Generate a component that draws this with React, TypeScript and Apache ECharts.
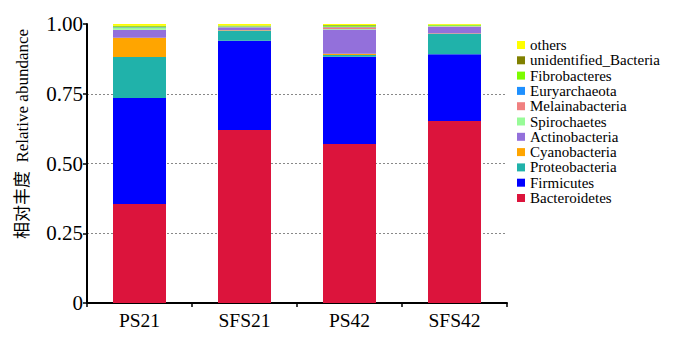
import React, { useEffect, useRef } from "react";
import * as echarts from "echarts";

const categories = ["PS21", "SFS21", "PS42", "SFS42"];
const taxa = [
  "Bacteroidetes",
  "Firmicutes",
  "Proteobacteria",
  "Cyanobacteria",
  "Actinobacteria",
  "Spirochaetes",
  "Melainabacteria",
  "Euryarchaeota",
  "Fibrobacteres",
  "unidentified_Bacteria",
  "others",
];
const colors = [
  "#DC143C",
  "#0000FF",
  "#20B2AA",
  "#FFA500",
  "#9370DB",
  "#98FB98",
  "#F08080",
  "#1E90FF",
  "#7CFC00",
  "#808000",
  "#FFFF00",
];
const bacteroidetes = [0.355, 0.62, 0.57, 0.652];
const firmicutes = [0.38, 0.32, 0.313, 0.24];
const proteobacteria = [0.147, 0.036, 0.006, 0.072];
const cyanobacteria = [0.069, 0.002, 0.004, 0.002];
const actinobacteria = [0.028, 0.01, 0.087, 0.024];
const spirochaetes = [0.007, 0.001, 0.002, 0.002];
const melainabacteria = [0.001, 0.001, 0.006, 0.001];
const euryarchaeota = [0.001, 0.001, 0.002, 0.001];
const fibrobacteres = [0.004, 0.003, 0.005, 0.002];
const unidentified = [0.002, 0.001, 0.001, 0.001];
const others = [0.006, 0.005, 0.004, 0.003];
const seriesValues = [
  bacteroidetes,
  firmicutes,
  proteobacteria,
  cyanobacteria,
  actinobacteria,
  spirochaetes,
  melainabacteria,
  euryarchaeota,
  fibrobacteres,
  unidentified,
  others,
];
const yTicks = [0, 0.25, 0.5, 0.75, 1.0];
const yTickLabels = ["0", "0.25", "0.50", "0.75", "1.00"];
const yAxisTitle = "相对丰度  Relative abundance";

const serif = "'Liberation Serif', 'Noto Sans CJK SC', serif";

export default function App() {
  const ref = useRef<HTMLDivElement>(null);
  useEffect(() => {
    if (!ref.current) return;
    const chart = echarts.init(ref.current, undefined, { renderer: "svg" });
    chart.setOption({
      animation: false,
      backgroundColor: "#fff",
      grid: { left: 87, right: 193, top: 24, bottom: 51, containLabel: false },
      legend: {
        orient: "vertical",
        left: 517,
        top: 37.5,
        padding: 0,
        itemWidth: 8,
        itemHeight: 8,
        itemGap: 0.3,
        icon: "rect",
        data: taxa.slice().reverse(),
        textStyle: {
          fontFamily: serif,
          fontSize: 15,
          color: "#000",
        },
        selectedMode: false,
      },
      graphic: [
        {
          type: "text",
          x: 22,
          y: 134,
          rotation: Math.PI / 2,
          style: {
            text: yAxisTitle,
            fontFamily: serif,
            fontSize: 17,
            fill: "#000",
            align: "center",
            verticalAlign: "middle",
          },
        },
      ],
      xAxis: {
        type: "category",
        data: categories,
        axisLine: { lineStyle: { color: "#000", width: 2 } },
        axisTick: { show: true, length: 4, lineStyle: { color: "#000", width: 1.5 } },
        axisLabel: { fontFamily: serif, fontSize: 19.5, color: "#000", margin: 8 },
      },
      yAxis: {
        type: "value",
        min: 0,
        max: 1,
        interval: 0.25,
        axisLine: { show: true, lineStyle: { color: "#000", width: 2 } },
        axisTick: { show: true, length: 4, lineStyle: { color: "#000", width: 1.5 } },
        axisLabel: {
          fontFamily: serif,
          fontSize: 21,
          color: "#000",
          margin: 4,
          formatter: (v: number) => {
            const i = yTicks.findIndex((t) => Math.abs(t - v) < 1e-9);
            return i >= 0 ? yTickLabels[i] : "";
          },
        },
        splitLine: {
          show: true,
          showMaxLine: false,
          lineStyle: { color: "#888", type: [2, 2], width: 1 },
        },
      },
      series: taxa.map((name, i) => ({
        name,
        type: "bar",
        stack: "total",
        barWidth: 53,
        data: seriesValues[i],
        itemStyle: { color: colors[i] },
      })),
    });
    return () => chart.dispose();
  }, []);
  return <div ref={ref} style={{ width: 700, height: 354, margin: -8 }} />;
}
